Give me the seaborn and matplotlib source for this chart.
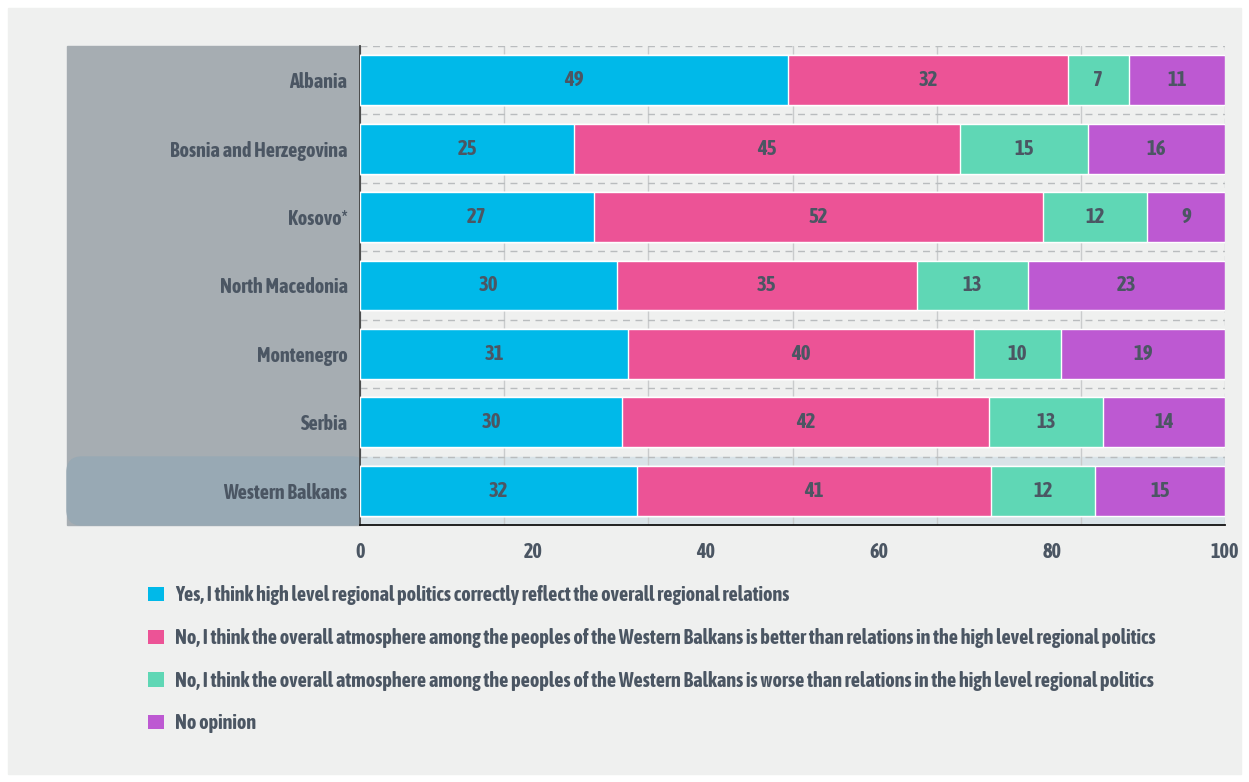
import numpy as np
import pandas as pd
import seaborn as sns
import matplotlib
matplotlib.use("Agg")
import matplotlib.pyplot as plt
from matplotlib.patches import Rectangle, FancyBboxPatch, Patch

countries = ["Albania", "Bosnia and Herzegovina", "Kosovo*", "North Macedonia",
             "Montenegro", "Serbia", "Western Balkans"]
yes_correct = [49, 25, 27, 30, 31, 30, 32]
no_better = [32, 45, 52, 35, 40, 42, 41]
no_worse = [7, 15, 12, 13, 10, 13, 12]
no_opinion = [11, 16, 9, 23, 19, 14, 15]

series_names = [
    "Yes, I think high level regional politics correctly reflect the overall regional relations",
    "No, I think the overall atmosphere among the peoples of the Western Balkans is better than relations in the high level regional politics",
    "No, I think the overall atmosphere among the peoples of the Western Balkans is worse than relations in the high level regional politics",
    "No opinion",
]
colors = ["#00b9e9", "#ec5396", "#5fd7b5", "#bd59d2"]
text_col = "#4b5663"

sns.set_style("white")
plt.rcParams["font.family"] = ["Asap Condensed", "DejaVu Sans"]
plt.rcParams["font.weight"] = "bold"

values = np.array([yes_correct, no_better, no_worse, no_opinion], dtype=float)
shares = values / values.sum(axis=0) * 100
cum = np.cumsum(shares, axis=0)

df = pd.DataFrame({"country": countries})
for i in range(4):
    df[f"c{i}"] = cum[i]

fig = plt.figure(figsize=(12.49, 7.82), dpi=100, facecolor="white")
W, H = 1249, 782

def fx(px):
    return px / W

def fy(py):
    return 1 - py / H

# page background
fig.patches.append(Rectangle((fx(8), fy(774)), fx(1233), (774 - 8) / H,
                             transform=fig.transFigure, color="#eff0ef", zorder=-3))
# label panel
fig.patches.append(Rectangle((fx(67), fy(525)), fx(293), (525 - 46) / H,
                             transform=fig.transFigure, color="#a6adb2", zorder=-2))
fig.patches.append(FancyBboxPatch((fx(67), fy(525)), fx(300), (525 - 457) / H,
                                  boxstyle="round,pad=0,rounding_size=0.012",
                                  transform=fig.transFigure, color="#98a9b4",
                                  zorder=-1, mutation_aspect=W / H))

ax = fig.add_axes([fx(360), fy(525), fx(1225 - 360), (525 - 46) / H])
ax.set_facecolor("none")

for i in range(3, -1, -1):
    sns.barplot(data=df, y="country", x=f"c{i}", color=colors[i], orient="h",
                width=0.73, saturation=1, ax=ax, zorder=3)

# highlight band for Western Balkans
ax.add_patch(Rectangle((0, 5.5), 100, 1.0, color="#d9e3e8", zorder=0.5))
ax.set_xlim(0, 100)
ax.set_ylim(6.5, -0.5)

# vertical grid lines behind the bars
for xv in np.arange(1, 6) * 100 / 6:
    ax.axvline(xv, color="#c9cbcc", lw=1, zorder=1)
ax.axvline(100, color="#c9cbcc", lw=1, ls=(0, (5, 4)), zorder=1)
for yv in np.arange(-0.5, 6.0, 1.0):
    ax.axhline(yv, color="#b9bcbe", lw=1, ls=(0, (5, 4)), zorder=1)

# value labels
for i in range(4):
    left = cum[i] - shares[i]
    for j in range(len(countries)):
        ax.text(left[j] + shares[i][j] / 2, j, f"{int(values[i][j])}",
                ha="center", va="center", fontsize=15, fontweight="bold",
                color=text_col, zorder=5)

for s in ["top", "right"]:
    ax.spines[s].set_visible(False)
ax.spines["left"].set_color("#444444")
ax.spines["left"].set_linewidth(1.3)
ax.spines["bottom"].set_color("#111111")
ax.spines["bottom"].set_linewidth(1.3)

ax.set_xticks([0, 20, 40, 60, 80, 100])
ax.tick_params(axis="x", length=0, pad=12, labelsize=14.5, labelcolor=text_col)
ax.tick_params(axis="y", length=0, pad=9, labelsize=14.5, labelcolor=text_col)
for lab in ax.get_xticklabels() + ax.get_yticklabels():
    lab.set_fontweight("bold")
ax.set_xlabel("")
ax.set_ylabel("")

handles = [Patch(facecolor=c, edgecolor="none") for c in colors]
leg = fig.legend(handles, series_names, loc="upper left",
                 bbox_to_anchor=(fx(130), fy(567)), frameon=False,
                 handlelength=0.8, handleheight=0.7, handletextpad=0.5,
                 labelspacing=1.12, prop={"size": 14.6, "weight": "bold"})
for t in leg.get_texts():
    t.set_color(text_col)

plt.savefig("out.png", dpi=100, facecolor="white")
